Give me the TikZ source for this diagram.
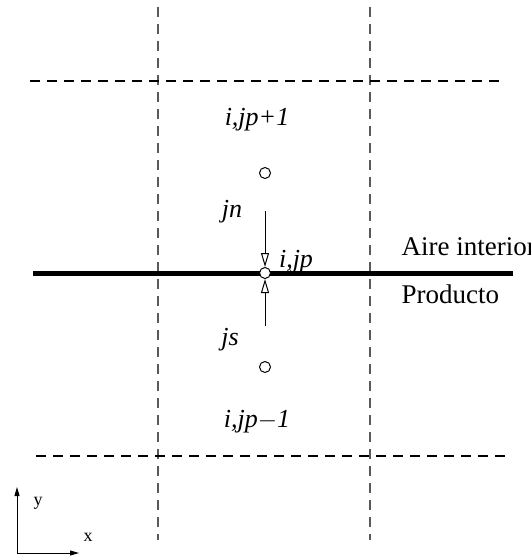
\documentclass[tikz,border=0pt]{standalone}
\usepackage{fontspec}
\setmainfont{Liberation Serif}
\usetikzlibrary{arrows.meta}

\begin{document}
\begin{tikzpicture}[x=1pt,y=-1pt,
   grid/.style={dash pattern=on 10pt off 7pt,line width=1.4pt},
   cell/.style={font=\fontsize{26}{28}\selectfont\itshape},
   side/.style={font=\fontsize{27}{29}\selectfont,anchor=base west},
   flux/.style={line width=1pt,-{Triangle[open,length=14pt,width=8pt]}},
   axis/.style={line width=1pt,-{Triangle[length=9pt,width=5pt]}}]
   \useasboundingbox (0,0) rectangle (530,559);

   % control volume grid
   \draw[grid,black!65] (158,7) -- (158,540);
   \draw[grid,black!65] (370,7) -- (370,540);
   \draw[grid] (30,81) -- (500,81);
   \draw[grid] (36,456) -- (508,456);

   % interface
   \draw[line width=5pt] (33,273) -- (513,273);
   \node[side] (aire) at (398,255) {Aire interior};
   \node[side] (prod) at (398,303) {Producto};

   % nodes
   \node[draw,circle,line width=1pt,fill=white,inner sep=0pt,minimum size=11pt] (P) at (265,273) {};
   \node[draw,circle,line width=1pt,inner sep=0pt,minimum size=11pt] (N) at (265,173) {};
   \node[draw,circle,line width=1pt,inner sep=0pt,minimum size=11pt] (S) at (265,367) {};
   \node[cell,anchor=base] (lP) at (296,267) {i,jp};
   \node[cell,anchor=base] (lN) at (257,125) {i,jp+1};
   \node[cell,anchor=base] (lS) at (257,427) {i,jp$-$1};

   % fluxes
   \coordinate (ntail) at (265,211);
   \coordinate (stail) at (265,326);
   \draw[flux] (ntail) -- (P);
   \draw[flux] (stail) -- (P);
   \node[cell,anchor=base] (jn) at (232,217) {jn};
   \node[cell,anchor=base] (js) at (230,345) {js};

   % axes
   \coordinate (origin) at (17,553);
   \coordinate (yend) at (17,487);
   \coordinate (xend) at (79,553);
   \draw[axis] (origin) -- (yend);
   \draw[axis] (origin) -- (xend);
   \node[font=\fontsize{18}{20}\selectfont] (ly) at (38,503) {y};
   \node[font=\fontsize{18}{20}\selectfont] (lx) at (88,537) {x};
\end{tikzpicture}
\end{document}
